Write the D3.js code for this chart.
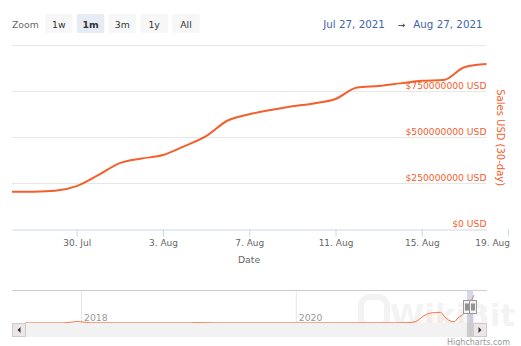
<!DOCTYPE html>
<html>
<head>
<meta charset="utf-8">
<script src="https://cdn.jsdelivr.net/npm/d3@7"></script>
<style>
  html, body { margin: 0; padding: 0; background: #fff; }
  svg { display: block; font-family: "DejaVu Sans", Verdana, sans-serif; }
</style>
</head>
<body>
<svg id="chart" width="521" height="346"></svg>
<script>
// Daily 30-day rolling sales volume (USD)
const salesDates = [
  "2021-07-27", "2021-07-28", "2021-07-29", "2021-07-30", "2021-07-31",
  "2021-08-01", "2021-08-02", "2021-08-03", "2021-08-04", "2021-08-05",
  "2021-08-06", "2021-08-07", "2021-08-08", "2021-08-09", "2021-08-10",
  "2021-08-11", "2021-08-12", "2021-08-13", "2021-08-14", "2021-08-15",
  "2021-08-16", "2021-08-17", "2021-08-18"
];
const salesUsd = [
  205e6, 206e6, 211e6, 236e6, 296e6,
  361e6, 386e6, 405e6, 454e6, 508e6,
  593e6, 627e6, 650e6, 670e6, 686e6,
  710e6, 772e6, 781e6, 795e6, 809e6,
  813e6, 884e6, 900e6
];

// Long-range history shown in the navigator strip
const navDates = [
  "2017-06-23", "2017-11-01", "2017-12-20", "2018-02-01", "2018-06-01",
  "2019-01-01", "2019-02-01", "2019-04-01", "2020-12-01", "2021-01-15",
  "2021-02-08", "2021-03-10", "2021-04-01", "2021-05-05", "2021-05-17",
  "2021-06-01", "2021-06-21", "2021-07-03", "2021-07-25", "2021-08-27"
];
const navUsd = [
  2e6, 3e6, 48e6, 6e6, 4e6,
  4e6, 12e6, 4e6, 5e6, 12e6,
  41e6, 232e6, 318e6, 340e6, 223e6,
  95e6, 41e6, 159e6, 318e6, 890e6
];

const xTickDates = ["2021-07-30", "2021-08-03", "2021-08-07", "2021-08-11", "2021-08-15", "2021-08-19"];
const yGridValues = [0, 250e6, 500e6, 750e6, 1000e6];
const yLabelValues = [0, 250e6, 500e6, 750e6];
const navYearTicks = ["2018-01-01", "2020-01-01"];
const zoomButtons = ["1w", "1m", "3m", "1y", "All"];
const selectedButton = "1m";
const rangeFrom = "Jul 27, 2021";
const rangeTo = "Aug 27, 2021";
const selStart = "2021-07-27", selEnd = "2021-08-27";

const parse = d3.utcParse("%Y-%m-%d");
const ORANGE = "#f4602c";
const W = 521;
const svg = d3.select("#chart");

const plot = { left: 12, right: 486.5, top: 45.7, bottom: 229.5 };

const x = d3.scaleUtc()
  .domain([parse(salesDates[0]), parse(salesDates[salesDates.length - 1])])
  .range([plot.left, plot.right]);
const y = d3.scaleLinear().domain([0, 1e9]).range([plot.bottom, plot.top]);

// Range selector buttons
svg.append("text").attr("x", 12).attr("y", 28)
  .attr("font-size", 9.3).attr("fill", "#666").text("Zoom");
const btn = svg.append("g").selectAll("g").data(zoomButtons).join("g")
  .attr("transform", (d, i) => `translate(${45 + i * 31.8},14)`);
btn.append("rect").attr("width", 27.5).attr("height", 19).attr("rx", 2)
  .attr("fill", d => d === selectedButton ? "#e6ebf5" : "#f7f7f7");
btn.append("text").attr("x", 13.75).attr("y", 14).attr("text-anchor", "middle")
  .attr("font-size", 9.3).attr("fill", "#333")
  .attr("font-weight", d => d === selectedButton ? "bold" : "normal")
  .text(d => d);

// Date range display
const rangeG = svg.append("g").attr("font-size", 10.3).attr("fill", "#3d63ae");
rangeG.append("text").attr("x", 323.3).attr("y", 28).text(rangeFrom);
rangeG.append("text").attr("x", 401.5).attr("y", 27.5).attr("text-anchor", "middle")
  .attr("font-size", 9).attr("fill", "#333").text("→");
rangeG.append("text").attr("x", 413.3).attr("y", 28).text(rangeTo);

// Horizontal grid
svg.append("g").selectAll("line").data(yGridValues.slice(1)).join("line")
  .attr("x1", plot.left).attr("x2", plot.right)
  .attr("y1", d => y(d)).attr("y2", d => y(d))
  .attr("stroke", "#e6e6e6").attr("stroke-width", 1);

// X axis
const xAxis = d3.axisBottom(x)
  .tickValues(xTickDates.map(parse))
  .tickFormat(d3.utcFormat("%-d. %b"))
  .tickSizeOuter(0).tickSizeInner(7).tickPadding(3);
const gx = svg.append("g").attr("transform", `translate(0,${plot.bottom})`).call(xAxis);
gx.select(".domain").attr("stroke", "#ccd6eb");
gx.selectAll(".tick line").attr("stroke", "#ccd6eb");
gx.selectAll(".tick text").attr("fill", "#666").attr("font-size", 9)
  .attr("font-family", "DejaVu Sans").attr("dy", "0.71em").attr("y", 10.5);
// keep the last label inside the chart's right edge
gx.selectAll(".tick text").each(function (d) {
  const t = d3.select(this);
  const half = this.getComputedTextLength() / 2;
  const over = x(d) + half - (W - 11.5);
  if (over > 0) t.attr("x", -over);
});
svg.append("text").attr("x", 249).attr("y", 263.3).attr("text-anchor", "middle")
  .attr("font-size", 9.3).attr("fill", "#666").text("Date");

// Y axis labels, right-aligned inside the plot
const yAxis = d3.axisLeft(y).tickValues(yLabelValues)
  .tickFormat(d => `$${d3.format("d")(d)} USD`).tickSize(0).tickPadding(0);
const gy = svg.append("g").attr("transform", `translate(${plot.right},0)`).call(yAxis);
gy.select(".domain").remove();
gy.selectAll(".tick text").attr("fill", ORANGE).attr("font-size", 9.2)
  .attr("font-family", "DejaVu Sans").attr("dy", 0).attr("y", -3.5);
svg.append("text")
  .attr("transform", `translate(497,137.7) rotate(90)`)
  .attr("text-anchor", "middle").attr("font-size", 10).attr("fill", ORANGE)
  .text("Sales USD (30-day)");

// Sales line
svg.append("defs").append("clipPath").attr("id", "plotClip")
  .append("rect").attr("x", plot.left).attr("y", plot.top - 10)
  .attr("width", plot.right - plot.left).attr("height", plot.bottom - plot.top + 10);
const line = d3.line()
  .x((d, i) => x(parse(salesDates[i])))
  .y(d => y(d))
  .curve(d3.curveMonotoneX);
svg.append("path").datum(salesUsd).attr("clip-path", "url(#plotClip)")
  .attr("d", line).attr("fill", "none").attr("stroke", ORANGE)
  .attr("stroke-width", 2).attr("stroke-linejoin", "round").attr("stroke-linecap", "round");

// Navigator
const nav = { left: 25, right: 474, top: 290, bottom: 323 };
const nx = d3.scaleUtc()
  .domain([parse(navDates[0]), parse(navDates[navDates.length - 1])])
  .range([nav.left, nav.right]);
const ny = d3.scaleLinear().domain([0, 1050e6]).range([nav.bottom, nav.top]);

// Watermark
const wm = svg.append("g").attr("opacity", 0.045);
wm.append("rect").attr("x", 361).attr("y", 297).attr("width", 26).attr("height", 30)
  .attr("rx", 9).attr("fill", "none").attr("stroke", "#000").attr("stroke-width", 6);
wm.append("text").attr("x", 390).attr("y", 326).attr("font-size", 31)
  .attr("font-weight", "bold").attr("fill", "#000").text("WikiBit");

svg.append("g").selectAll("line").data(navYearTicks).join("line")
  .attr("x1", d => nx(parse(d))).attr("x2", d => nx(parse(d)))
  .attr("y1", nav.top).attr("y2", nav.bottom)
  .attr("stroke", "#e6e6e6");
svg.append("g").selectAll("text").data(navYearTicks).join("text")
  .attr("x", d => nx(parse(d)) + 2.5).attr("y", 320.5)
  .attr("font-size", 9.3).attr("fill", "#999")
  .text(d => d.slice(0, 4));

const navArea = d3.area()
  .x((d, i) => nx(parse(navDates[i])))
  .y0(nav.bottom).y1(d => ny(d))
  .curve(d3.curveMonotoneX);
svg.append("path").datum(navUsd).attr("d", navArea)
  .attr("fill", ORANGE).attr("fill-opacity", 0.05);
svg.append("path").datum(navUsd).attr("d", navArea.lineY1())
  .attr("fill", "none").attr("stroke", ORANGE).attr("stroke-width", 1).attr("stroke-opacity", 0.85);

const sx0 = nx(parse(selStart)) + 2, sx1 = nx(parse(selEnd)) - 1;
svg.append("rect").attr("x", sx0).attr("y", nav.top).attr("width", sx1 - sx0)
  .attr("height", nav.bottom - nav.top).attr("fill", "rgba(102,133,194,0.3)");
svg.append("line").attr("x1", plot.left).attr("x2", plot.right + 0.5)
  .attr("y1", nav.top + 0.5).attr("y2", nav.top + 0.5).attr("stroke", "#cccccc");

// Scrollbar
const sb = svg.append("g");
sb.append("rect").attr("x", 12).attr("y", 323).attr("width", 475).attr("height", 14).attr("fill", "#f2f2f2");
sb.append("rect").attr("x", sx0).attr("y", 323).attr("width", sx1 - sx0).attr("height", 14)
  .attr("fill", "#cccccc");
[[12.5, -1], [473.5, 1]].forEach(([bx, dir]) => {
  sb.append("rect").attr("x", bx).attr("y", 323.5).attr("width", 13).attr("height", 13)
    .attr("fill", "#ebe7e8").attr("stroke", "#cccccc");
  const cx = bx + 6.5, cy = 330;
  sb.append("path")
    .attr("d", dir < 0
      ? `M${cx + 1.5},${cy - 3}L${cx - 1.5},${cy}L${cx + 1.5},${cy + 3}Z`
      : `M${cx - 1.5},${cy - 3}L${cx + 1.5},${cy}L${cx - 1.5},${cy + 3}Z`)
    .attr("fill", "#333");
});

// Navigator handles
[sx0, sx1].forEach(hx => {
  const g = svg.append("g").attr("transform", `translate(${Math.round(hx) - 3.5},300.5)`);
  g.append("rect").attr("width", 7).attr("height", 13).attr("fill", "#f2f2f2").attr("stroke", "#999");
  g.append("line").attr("x1", 2.5).attr("x2", 2.5).attr("y1", 3).attr("y2", 10).attr("stroke", "#333");
  g.append("line").attr("x1", 4.5).attr("x2", 4.5).attr("y1", 3).attr("y2", 10).attr("stroke", "#333");
});

svg.append("text").attr("x", 510).attr("y", 345).attr("text-anchor", "end")
  .attr("font-size", 8).attr("fill", "#999").text("Highcharts.com");
</script>
</body>
</html>
